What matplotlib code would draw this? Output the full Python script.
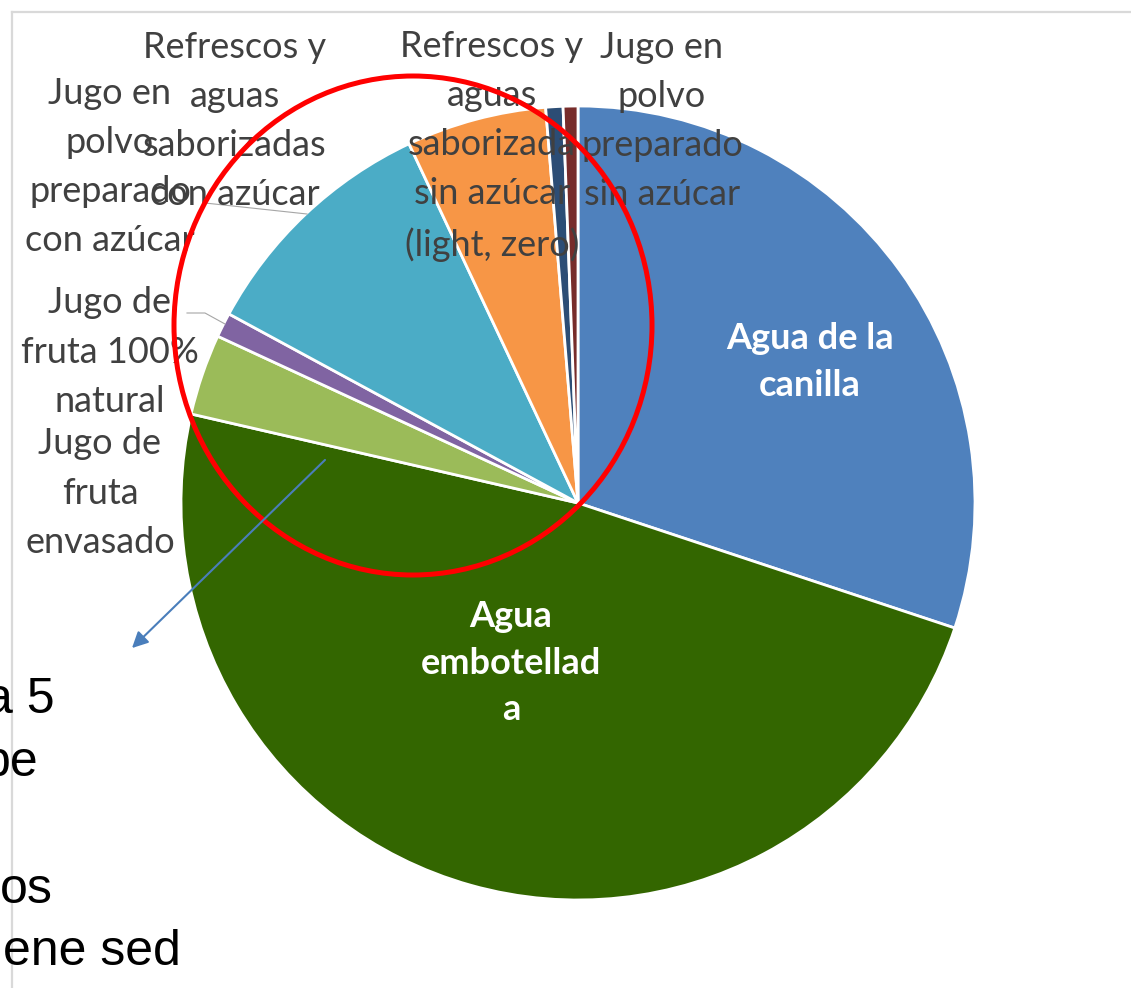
import matplotlib
matplotlib.use("Agg")
import matplotlib.pyplot as plt
from matplotlib.patches import Ellipse

# Data (shares, %), clockwise from 12 o'clock.
categories = ["Agua de la canilla", "Agua embotellada", "Jugo de fruta envasado",
              "Jugo de fruta 100% natural",
              "Refrescos y aguas saborizadas con azúcar",
              "Refrescos y aguas saborizadas sin azúcar (light, zero)",
              "Jugo en polvo preparado con azúcar",
              "Jugo en polvo preparado sin azúcar"]
values = [30.1, 48.5, 3.3, 1.0, 10.1, 5.7, 0.7, 0.6]
colors = ["#4F81BD", "#336600", "#9BBB59", "#8064A2",
          "#4BACC6", "#F79646", "#2C4D75", "#772C2A"]

# Wrapped label text as shown on the slide
inside_labels = ["Agua de la\ncanilla", "Agua\nembotellad\na"]
outside_labels = ["Jugo de\nfruta\nenvasado",
                  "Jugo de\nfruta 100%\nnatural",
                  "Refrescos y\naguas\nsaborizadas\ncon azúcar",
                  "Refrescos y\naguas\nsaborizada\nsin azúcar\n(light, zero)",
                  "Jugo en\npolvo\npreparado\ncon azúcar",
                  "Jugo en\npolvo\npreparado\nsin azúcar"]
# fragments of slide text cut off at the left edge
slide_text = ["a 5", "be", "os", "ene sed"]

W, H = 1131, 988
fig = plt.figure(figsize=(W / 100, H / 100), dpi=100)
ax = fig.add_axes([0, 0, 1, 1])

ax.pie(values, colors=colors, startangle=-90, counterclock=True,
       center=(578, 503), radius=397,
       wedgeprops=dict(edgecolor="white", linewidth=2))
ax.set_xlim(0, W)
ax.set_ylim(H, 0)
ax.set_aspect("equal")
ax.axis("off")

# chart frame (only top and left visible)
ax.plot([12, 12], [12, H], color="#D9D9D9", lw=1.6, zorder=1)
ax.plot([12, W], [12, 12], color="#D9D9D9", lw=1.6, zorder=1)

# inside labels
in_pos = [(810, 362), (511, 663)]
for txt, (x, y) in zip(inside_labels, in_pos):
    ax.text(x, y, txt, ha="center", va="center", color="white",
            fontsize=26, fontweight="bold", family="Lato", linespacing=1.5,
            zorder=4)

# outside labels
out_pos = [(100, 493), (110, 352), (235, 121), (492, 146), (110, 167), (662, 121)]
for txt, (x, y) in zip(outside_labels, out_pos):
    ax.text(x, y, txt, ha="center", va="center", color="#404040",
            fontsize=26, family="Lato", linespacing=1.6, zorder=4)

# leader lines
ax.plot([205, 307], [203, 214], color="#A6A6A6", lw=0.8, zorder=3)
ax.plot([187, 205, 225], [313, 313, 324], color="#A6A6A6", lw=0.8, zorder=3)

# red highlight circle
ax.add_patch(Ellipse((413, 325.5), 478, 499, fill=False,
                     edgecolor="#FF0000", lw=3.6, zorder=5))

# blue arrow
ax.annotate("", xy=(130, 650), xytext=(327, 458),
            arrowprops=dict(arrowstyle="-|>", color="#4A7EBB", lw=1.5,
                            mutation_scale=24), zorder=5)

# slide text behind the chart
frag_pos = [(55, 700), (38, 763), (53, 890), (181, 952)]
for txt, (x, y) in zip(slide_text, frag_pos):
    ax.text(x, y, txt, ha="right", va="center", color="black",
            fontsize=36, family="Liberation Sans", zorder=2)

fig.savefig("out.png", dpi=100)
